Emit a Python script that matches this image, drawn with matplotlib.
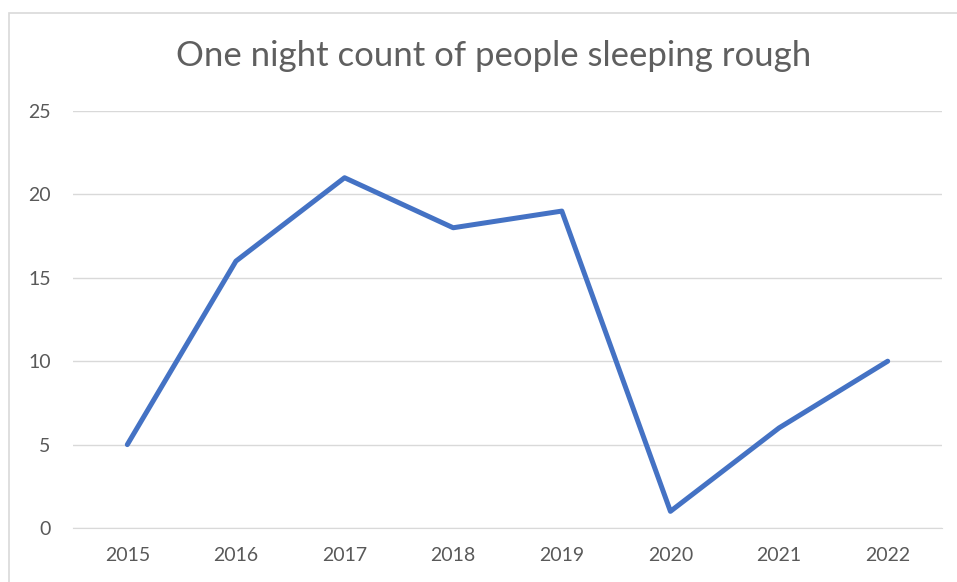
import matplotlib
matplotlib.use("Agg")
import matplotlib.pyplot as plt
from matplotlib.patches import Rectangle

years = ["2015", "2016", "2017", "2018", "2019", "2020", "2021", "2022"]
counts = [5, 16, 21, 18, 19, 1, 6, 10]
y_ticks = [0, 5, 10, 15, 20, 25]
title = "One night count of people sleeping rough"

W, H = 957, 582
fig = plt.figure(figsize=(W / 100, H / 100), dpi=100)
plt.rcParams['font.family'] = ['Lato', 'DejaVu Sans']

# outer chart border (only left/top visible in reference)
fig.patches.append(Rectangle((8.5 / W, -0.1), 1.2, 1.1 - 12.5 / H,
                             transform=fig.transFigure, fill=False,
                             edgecolor="#D9D9D9", linewidth=1.2))

ax = fig.add_axes([73 / W, (H - 528) / H, (942 - 73) / W, (528 - 111) / H])
x = list(range(len(years)))
ax.plot(x, counts, color="#4472C4", linewidth=3.6,
        solid_joinstyle="round", solid_capstyle="round", zorder=3)

ax.set_xlim(-0.5, len(years) - 0.5)
ax.set_ylim(0, 25)
ax.set_yticks(y_ticks)
ax.set_xticks(x)
ax.set_xticklabels(years)
ax.grid(axis="y", color="#D9D9D9", linewidth=1.0)
ax.set_axisbelow(True)
for s in ["top", "right", "left"]:
    ax.spines[s].set_visible(False)
ax.spines["bottom"].set_color("#D9D9D9")
ax.tick_params(axis="both", length=0, colors="#595959", labelsize=14)
ax.tick_params(axis="y", pad=16)
ax.tick_params(axis="x", pad=14)

fig.text(494 / W, 1 - 56 / H, title, ha="center", va="center",
         fontsize=25, color="#5f5f5f")

fig.savefig("out.png", dpi=100)
